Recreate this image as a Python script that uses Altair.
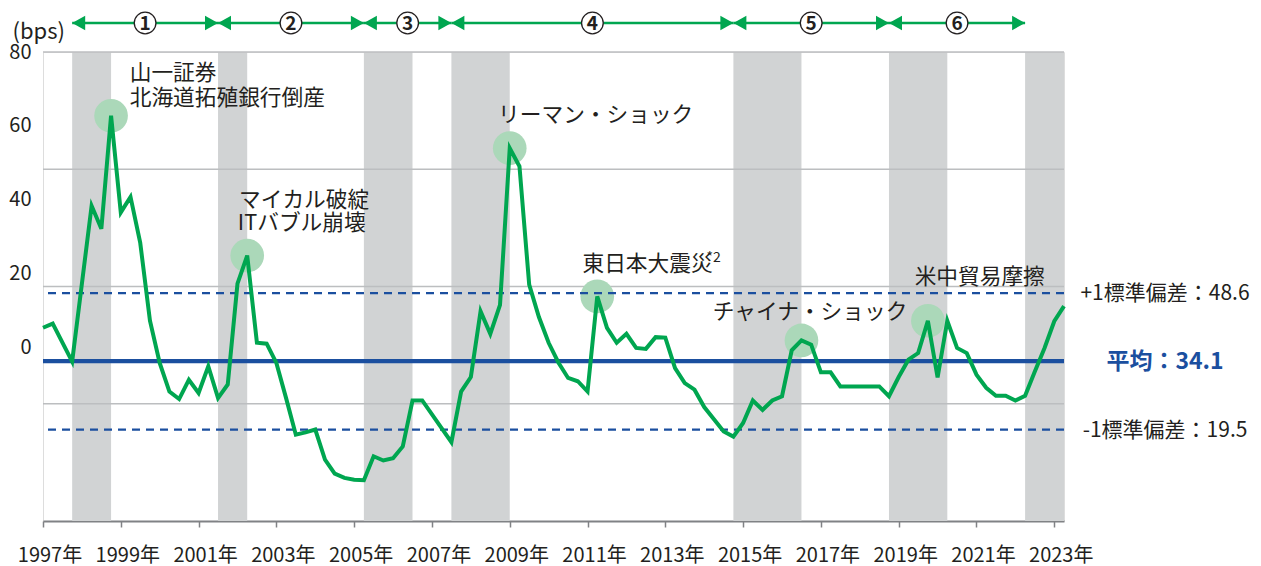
import altair as alt
import pandas as pd

FONT = "Noto Sans CJK JP"
INK = "#231f20"
GREEN = "#00a650"
BLUE = "#1b4f9f"
BAND = "#d1d3d4"
GRID = "#bcbec0"
AXIS = "#808285"
HALO = "#abd8b9"

# ---- main series (quarterly, decimal year) ----
years = [1997.00, 1997.25, 1997.75, 1998.25, 1998.50, 1998.75, 1999.00, 1999.25, 1999.50, 1999.75,
         2000.00, 2000.25, 2000.50, 2000.75, 2001.00, 2001.25, 2001.50, 2001.75, 2002.00, 2002.25,
         2002.50, 2002.75, 2003.00, 2003.25, 2003.50, 2003.75, 2004.00, 2004.25, 2004.50, 2004.75,
         2005.00, 2005.25, 2005.50, 2005.75, 2006.00, 2006.25, 2006.50, 2006.75, 2007.50, 2007.75,
         2008.00, 2008.25, 2008.50, 2008.75, 2009.00, 2009.25, 2009.50, 2009.75, 2010.00, 2010.25,
         2010.50, 2010.75, 2011.00, 2011.25, 2011.50, 2011.75, 2012.00, 2012.25, 2012.50, 2012.75,
         2013.00, 2013.25, 2013.50, 2013.75, 2014.00, 2014.25, 2014.50, 2014.75, 2015.00, 2015.25,
         2015.50, 2015.75, 2016.00, 2016.25, 2016.50, 2016.75, 2017.00, 2017.25, 2017.50, 2018.50,
         2018.75, 2019.00, 2019.25, 2019.50, 2019.75, 2020.00, 2020.25, 2020.50, 2020.75, 2021.00,
         2021.25, 2021.50, 2021.75, 2022.00, 2022.25, 2022.50, 2022.75, 2023.00, 2023.25]
spread = [41.2, 42.1, 34.0, 67.2, 62.3, 86.4, 65.8, 69.1, 59.3, 42.7,
          33.7, 27.6, 26.0, 30.1, 27.3, 33.0, 26.2, 29.1, 50.6, 56.6,
          38.0, 37.8, 33.7, 26.2, 18.4, 18.9, 19.5, 13.1, 10.1, 9.2,
          8.8, 8.7, 13.8, 12.9, 13.4, 15.9, 25.7, 25.7, 16.8, 27.6,
          30.7, 44.7, 39.9, 46.1, 79.5, 75.6, 50.4, 43.5, 38.0, 33.8,
          30.5, 29.8, 27.6, 47.9, 41.2, 38.0, 39.9, 36.9, 36.7, 39.2,
          39.1, 32.6, 29.4, 28.0, 24.3, 21.7, 19.1, 18.0, 20.9, 25.7,
          23.7, 25.7, 26.6, 36.4, 38.5, 37.6, 31.7, 31.7, 28.7, 28.7,
          26.6, 30.7, 34.4, 35.8, 42.7, 30.6, 42.7, 36.9, 35.8, 31.2,
          28.4, 26.7, 26.7, 25.7, 26.7, 31.9, 36.9, 42.6, 45.8]

# ---- shaded periods ----
band_start = [1997.75, 2001.50, 2005.25, 2007.50, 2014.75, 2018.75, 2022.25]
band_end = [1998.75, 2002.25, 2006.50, 2009.00, 2016.50, 2020.25, 2023.25]

# ---- numbered periods (top arrows) ----
period_start = [1997.75, 2001.50, 2005.25, 2007.50, 2014.75, 2018.75]
period_end = [2001.50, 2005.25, 2007.50, 2014.75, 2018.75, 2022.25]
period_label = ["1", "2", "3", "4", "5", "6"]

# ---- grid / axis ----
grid_values = [25, 50, 75, 100]
x_ticks = [1997, 1999, 2001, 2003, 2005, 2007, 2009, 2011, 2013, 2015, 2017, 2019, 2021, 2023]
x_tick_text = [f"{y}年" for y in x_ticks]
y_tick_pos = [37, 52.75, 68.5, 84.25, 100]
y_tick_text = ["0", "20", "40", "60", "80"]

# ---- reference lines ----
ref_values = [48.6, 34.1, 19.5]
ref_kind = ["sd", "mean", "sd"]
ref_labels = ["+1標準偏差：48.6", "平均：34.1", "-1標準偏差：19.5"]

# ---- events ----
event_x = [1998.75, 2002.25, 2009.00, 2011.25, 2016.50, 2019.75]
event_y = [86.4, 56.6, 79.5, 47.9, 38.5, 42.7]

note_text = ["山一証券", "北海道拓殖銀行倒産", "マイカル破綻", "ITバブル崩壊",
             "リーマン・ショック", "東日本大震災", "チャイナ・ショック", "米中貿易摩擦"]
note_x = [1999.23, 1999.23, 2002.04, 2002.01, 2008.70, 2010.87, 2014.22, 2019.41]
note_y = [95.5, 90.2, 68.4, 63.5, 86.6, 54.9, 44.6, 52.1]
sup_text = ["*2"]
sup_x = [2014.06]
sup_y = [56.1]

# ---- tables ----
series = pd.DataFrame({"x": years, "y": spread})
bands = pd.DataFrame({"x": band_start, "x2": band_end})
periods = pd.DataFrame({"x": period_start, "x2": period_end, "label": period_label})
grid = pd.DataFrame({"y": grid_values})
refs = pd.DataFrame({"y": ref_values, "kind": ref_kind, "label": ref_labels})
events = pd.DataFrame({"x": event_x, "y": event_y})
notes = pd.DataFrame({"x": note_x, "y": note_y, "text": note_text})
sups = pd.DataFrame({"x": sup_x, "y": sup_y, "text": sup_text})
xlabels = pd.DataFrame({"x": x_ticks, "text": x_tick_text})

W, H = 1021, 469

xs = alt.Scale(domain=[1997, 2023.25], nice=False, zero=False)
ys = alt.Scale(domain=[0, 100], nice=False, zero=True)

y_expr = " : ".join(
    f"datum.value == {p} ? '{t}'" for p, t in zip(y_tick_pos, y_tick_text)
) + " : ''"

x_axis = alt.Axis(values=x_ticks, labels=False, grid=False,
                  domainColor=AXIS, domainWidth=2.2, tickColor=AXIS, tickWidth=1.5,
                  tickSize=6, title=None)
y_axis = alt.Axis(values=y_tick_pos, labelExpr=y_expr, grid=False, ticks=False,
                  domain=False, labelFontSize=20, labelColor=INK, labelPadding=12,
                  labelFont=FONT, title="(bps)", titleAngle=0, titleAlign="left",
                  titleBaseline="middle", titleX=-31, titleY=-21, titleFontSize=22,
                  titleFontWeight="normal", titleColor=INK, titleFont=FONT,
                  labelOverlap=False)

X = lambda f="x": alt.X(f"{f}:Q", scale=xs, axis=x_axis)
Y = lambda f="y": alt.Y(f"{f}:Q", scale=ys, axis=y_axis)

band_layer = alt.Chart(bands).mark_rect(color=BAND).encode(
    x=X(), x2="x2:Q", y=alt.datum(0, scale=ys, axis=y_axis), y2=alt.datum(100))

grid_layer = alt.Chart(grid).mark_rule(color=GRID, strokeWidth=1.3).encode(y=Y())

halo_layer = alt.Chart(events).mark_circle(size=1134, color=HALO, opacity=1).encode(
    x=X(), y=Y())

sd_layer = alt.Chart(refs).transform_filter("datum.kind == 'sd'").mark_rule(
    color=BLUE, strokeWidth=2.2, strokeDash=[8, 6]).encode(y=Y())
mean_layer = alt.Chart(refs).transform_filter("datum.kind == 'mean'").mark_rule(
    color=BLUE, strokeWidth=4.2).encode(y=Y())

line_layer = alt.Chart(series).mark_line(
    color=GREEN, strokeWidth=4, strokeJoin="miter", strokeMiterLimit=4).encode(
    x=X(), y=Y())

note_layer = alt.Chart(notes).mark_text(
    align="left", baseline="middle", fontSize=21.7, color=INK, font=FONT).encode(
    x=X(), y=Y(), text="text:N")
sup_layer = alt.Chart(sups).mark_text(
    align="left", baseline="middle", fontSize=14, color=INK, font=FONT).encode(
    x=X(), y=Y(), text="text:N")

xlabel_layer = alt.Chart(xlabels).mark_text(
    align="center", baseline="middle", fontSize=20, color=INK, font=FONT, dx=7).encode(
    x=X(), y=alt.value(H + 34.5), text="text:N")

TOP = -29
arrow_line = alt.Chart(periods).mark_rule(color=GREEN, strokeWidth=2.5).encode(
    x=X(), x2="x2:Q", y=alt.value(TOP))
head_right = alt.Chart(periods).mark_point(
    shape="M0,0L-1,-0.55L-1,0.55Z", filled=True, size=676, color=GREEN, opacity=1).encode(
    x=X("x2"), y=alt.value(TOP))
head_left = alt.Chart(periods).mark_point(
    shape="M0,0L1,-0.55L1,0.55Z", filled=True, size=676, color=GREEN, opacity=1).encode(
    x=X(), y=alt.value(TOP))
num_circle = alt.Chart(periods).transform_calculate(
    mid="(datum.x + datum.x2) / 2").mark_point(
    shape="circle", filled=True, fill="white", stroke=INK, strokeWidth=1.3,
    size=470, opacity=1).encode(x=X("mid"), y=alt.value(TOP))
num_text = alt.Chart(periods).transform_calculate(
    mid="(datum.x + datum.x2) / 2").mark_text(
    align="center", baseline="middle", fontSize=19, fontWeight="bold", color=INK,
    font=FONT, dy=1).encode(x=X("mid"), y=alt.value(TOP), text="label:N")

RIGHT_X = 1122
sd_label = alt.Chart(refs).transform_filter("datum.kind == 'sd'").mark_text(
    align="center", baseline="middle", fontSize=21, color=INK, font=FONT, dy=1).encode(
    x=alt.value(RIGHT_X), y=Y(), text="label:N")
mean_label = alt.Chart(refs).transform_filter("datum.kind == 'mean'").mark_text(
    align="center", baseline="middle", fontSize=23, fontWeight="bold", color=BLUE,
    font=FONT, dy=1).encode(x=alt.value(RIGHT_X), y=Y(), text="label:N")

chart = alt.layer(
    band_layer, grid_layer, halo_layer, sd_layer, mean_layer, line_layer,
    note_layer, sup_layer, xlabel_layer, arrow_line, head_right, head_left,
    num_circle, num_text, sd_label, mean_label,
).properties(
    width=W, height=H,
    autosize=alt.AutoSizeParams(type="none"),
    padding={"left": 35, "top": 44, "right": 189, "bottom": 50},
).configure_view(stroke=None).configure(font=FONT)

chart.save("out.html", embed_options={"renderer": "svg", "actions": False})
